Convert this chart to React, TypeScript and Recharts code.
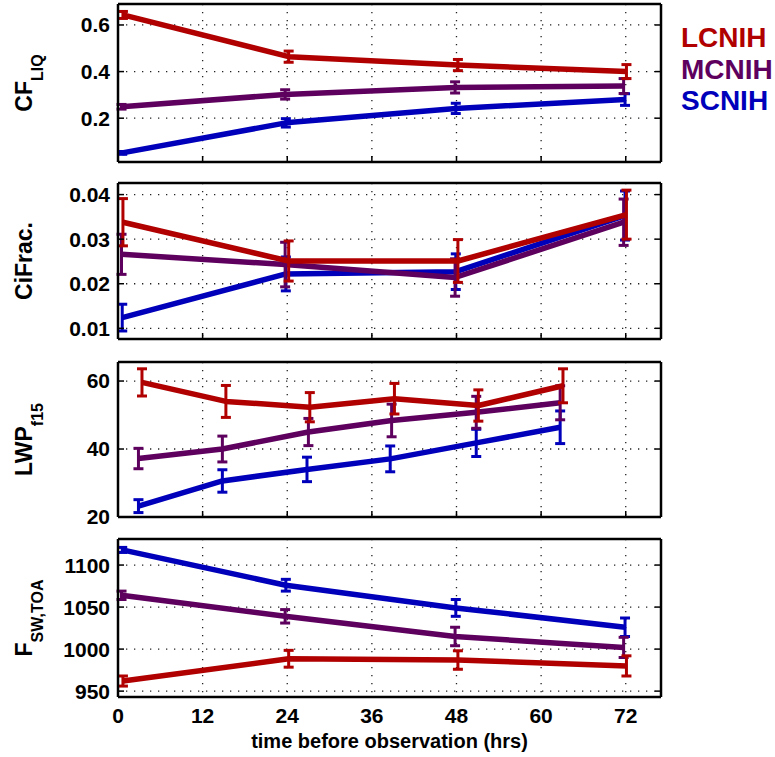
import React from 'react';
import { LineChart, Line, XAxis, YAxis, CartesianGrid, ErrorBar } from 'recharts';

// series names / colours
const seriesNames = ['LCNIH', 'MCNIH', 'SCNIH'];
const seriesColors = ['#b00000', '#5e005e', '#0000bb'];

const hourTicks = [0, 12, 24, 36, 48, 60, 72];

// hours of the 4-point panels (small per-series offsets as in the original)
const hoursL = [0.7, 24.2, 48.2, 72.1];
const hoursM = [0.5, 23.7, 47.8, 71.7];
const hoursS = [0.6, 23.8, 47.9, 71.9];

// hours of the LWP panel
const lwpHoursL = [3.4, 15.3, 27.2, 39.2, 51.1, 63.1];
const lwpHoursM = [2.9, 14.8, 27.0, 38.8, 50.8, 62.7];
const lwpHoursS = [2.9, 14.8, 26.8, 38.6, 50.8, 62.7];

// CF_LIQ
const cfLiqL = [0.643, 0.464, 0.428, 0.4];
const cfLiqLErr = [0.015, 0.024, 0.024, 0.03];
const cfLiqM = [0.249, 0.302, 0.332, 0.338];
const cfLiqMErr = [0.01, 0.02, 0.024, 0.032];
const cfLiqS = [0.051, 0.18, 0.242, 0.28];
const cfLiqSErr = [0.006, 0.018, 0.022, 0.025];

// CiFrac.
const ciFracL = [0.0338, 0.0251, 0.0251, 0.0355];
const ciFracLErr = [0.0053, 0.0045, 0.0048, 0.0055];
const ciFracM = [0.0266, 0.0243, 0.0214, 0.0338];
const ciFracMErr = [0.0045, 0.005, 0.0042, 0.0052];
const ciFracS = [0.0124, 0.0222, 0.0227, 0.0353];
const ciFracSErr = [0.003, 0.0038, 0.004, 0.0055];

// LWP_f15
const lwpL = [59.6, 54.0, 52.3, 54.8, 52.8, 58.6];
const lwpLErr = [4.0, 4.7, 4.3, 4.5, 4.6, 5.0];
const lwpM = [37.2, 40.0, 45.0, 48.4, 50.8, 53.6];
const lwpMErr = [3.0, 3.8, 4.0, 4.8, 4.7, 5.0];
const lwpS = [23.2, 30.6, 34.0, 37.1, 41.8, 46.4];
const lwpSErr = [1.9, 3.3, 3.6, 3.8, 4.0, 4.8];

// F_SW,TOA
const fswL = [962, 988.5, 987, 980];
const fswLErr = [6, 10, 11, 12];
const fswM = [1064, 1039, 1015, 1002];
const fswMErr = [5, 8, 11, 12];
const fswS = [1118, 1076, 1049, 1026];
const fswSErr = [3, 7, 10, 11];

const zip = (xs: number[], vs: number[], es: number[]) =>
  xs.map((x, i) => ({ x, v: vs[i], e: es[i] }));

const FONT = '"Liberation Sans", Arial, sans-serif';

const panels = [
  {
    top: 4, h: 158, main: 'CF', sub: 'LIQ', domain: [0.012, 0.69], ticks: [0.2, 0.4, 0.6],
    series: [zip(hoursL, cfLiqL, cfLiqLErr), zip(hoursM, cfLiqM, cfLiqMErr), zip(hoursS, cfLiqS, cfLiqSErr)],
  },
  {
    top: 183, h: 156, main: 'CiFrac.', sub: '', domain: [0.0076, 0.0426], ticks: [0.01, 0.02, 0.03, 0.04],
    series: [zip(hoursL, ciFracL, ciFracLErr), zip(hoursM, ciFracM, ciFracMErr), zip(hoursS, ciFracS, ciFracSErr)],
  },
  {
    top: 362, h: 155, main: 'LWP', sub: 'f15', domain: [20, 65.6], ticks: [20, 40, 60],
    series: [zip(lwpHoursL, lwpL, lwpLErr), zip(lwpHoursM, lwpM, lwpMErr), zip(lwpHoursS, lwpS, lwpSErr)],
  },
  {
    top: 539, h: 158, main: 'F', sub: 'SW,TOA', domain: [943, 1131], ticks: [950, 1000, 1050, 1100],
    series: [zip(hoursL, fswL, fswLErr), zip(hoursM, fswM, fswMErr), zip(hoursS, fswS, fswSErr)],
  },
];

const PAD_TOP = 4;

const XTitle = (props: any) => {
  const { viewBox } = props;
  return (
    <text
      x={viewBox.x + viewBox.width / 2}
      y={viewBox.y + 51}
      textAnchor="middle"
      fontSize={20}
      fontWeight="bold"
      fill="#000"
      fontFamily={FONT}
    >
      time before observation (hrs)
    </text>
  );
};

// tick marks only, no label
const NoLabel = () => <g />;

const frame = { stroke: '#000', strokeWidth: 2.5 };
const tickStroke = { stroke: '#000', strokeWidth: 1.5 };
const tickFont = { fontSize: 21, fontWeight: 'bold', fill: '#000', fontFamily: FONT };

const Panel = ({ p, last }: { p: any; last: boolean }) => {
  const bottomPad = last ? 0 : 16;
  const height = p.h + PAD_TOP + bottomPad + (last ? 60 : 0);
  const inward = {
    type: 'number' as const,
    allowDataOverflow: true,
    interval: 0 as const,
    mirror: true,
    tick: NoLabel,
    tickSize: 6,
    tickLine: tickStroke,
    axisLine: frame,
  };
  return (
    <div style={{ position: 'absolute', left: 0, top: p.top - PAD_TOP }}>
      <LineChart
        width={775}
        height={height}
        margin={{ top: PAD_TOP, right: 114, bottom: bottomPad, left: 0 }}
      >
        <CartesianGrid
          xAxisId="x"
          yAxisId="y"
          stroke="#222"
          strokeWidth={1.3}
          strokeDasharray="1.3 6.7"
        />
        {last ? (
          <XAxis
            xAxisId="x"
            dataKey="x"
            type="number"
            domain={[0, 77]}
            ticks={hourTicks}
            allowDataOverflow
            interval={0}
            height={60}
            tickSize={0}
            tickMargin={11}
            tickLine={false}
            axisLine={false}
            tick={tickFont}
            label={<XTitle />}
          />
        ) : (
          <XAxis xAxisId="x" dataKey="x" domain={[0, 77]} ticks={hourTicks} {...inward} />
        )}
        {last && <XAxis xAxisId="xb" domain={[0, 77]} ticks={hourTicks} {...inward} />}
        <XAxis xAxisId="xt" orientation="top" domain={[0, 77]} ticks={hourTicks} {...inward} />
        <YAxis yAxisId="y" domain={p.domain} ticks={p.ticks} {...inward} />
        <YAxis
          yAxisId="yl"
          type="number"
          domain={p.domain}
          ticks={p.ticks}
          allowDataOverflow
          interval={0}
          width={118}
          tickSize={0}
          tickMargin={8}
          tickLine={false}
          axisLine={false}
          tick={tickFont}
        />
        <YAxis yAxisId="yr" orientation="right" domain={p.domain} ticks={p.ticks} {...inward} />
        {[2, 1, 0].map((i) => (
          <Line
            key={seriesNames[i]}
            name={seriesNames[i]}
            data={p.series[i]}
            dataKey="v"
            xAxisId="x"
            yAxisId="y"
            stroke={seriesColors[i]}
            strokeWidth={5.5}
            strokeLinejoin="round"
            dot={false}
            activeDot={false}
            isAnimationActive={false}
          >
            <ErrorBar
              dataKey="e"
              direction="y"
              width={5}
              stroke={seriesColors[i]}
              strokeWidth={3}
              isAnimationActive={false}
            />
          </Line>
        ))}
      </LineChart>
    </div>
  );
};

export default function App() {
  return (
    <div
      style={{
        position: 'absolute',
        left: 0,
        top: 0,
        width: 775,
        height: 757,
        background: '#fff',
        fontFamily: FONT,
      }}
    >
      {panels.map((p, i) => (
        <Panel key={p.main} p={p} last={i === panels.length - 1} />
      ))}
      {/* y axis titles with subscripts */}
      <svg style={{ position: 'absolute', left: 0, top: 0 }} width={60} height={757}>
        {panels.map((p) => (
          <text
            key={p.main}
            transform={`translate(32,${p.top + p.h / 2}) rotate(-90)`}
            textAnchor="middle"
            fontSize={23}
            fontWeight="bold"
            fill="#000"
            fontFamily={FONT}
          >
            {p.main}
            {p.sub && (
              <tspan fontSize={16} dy={11}>
                {p.sub}
              </tspan>
            )}
          </text>
        ))}
      </svg>
      <svg style={{ position: 'absolute', left: 670, top: 0 }} width={105} height={130}>
        {seriesNames.map((n, i) => (
          <text
            key={n}
            x={11}
            y={47 + i * 31.7}
            fontSize={28}
            fontWeight="bold"
            fill={seriesColors[i]}
            fontFamily={FONT}
          >
            {n}
          </text>
        ))}
      </svg>
    </div>
  );
}
